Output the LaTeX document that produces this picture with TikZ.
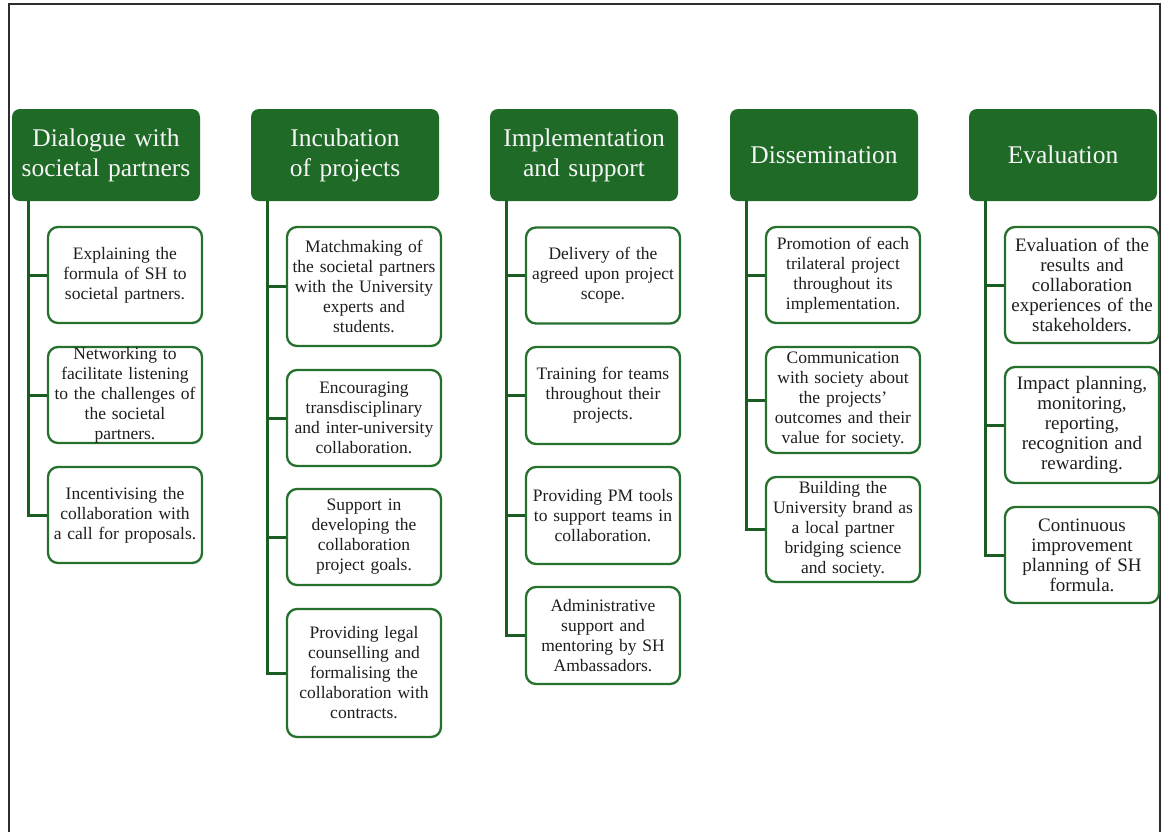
\documentclass[tikz,border=0pt]{standalone}
\usepackage{fontspec}
\setmainfont{Liberation Serif}
\definecolor{hdrgreen}{RGB}{30,106,38}
\definecolor{boxgreen}{RGB}{38,112,46}
\definecolor{linegreen}{RGB}{27,92,34}
\definecolor{txtgray}{RGB}{30,30,30}
\definecolor{hdrtext}{RGB}{245,245,245}
\definecolor{framegray}{RGB}{45,45,45}
\tikzset{
  hdr/.style={fill=hdrgreen, rounded corners=8pt, minimum width=188pt, minimum height=92pt,
    text width=180pt, inner xsep=4pt, inner ysep=0pt, align=center, text=hdrtext,
    font=\fontsize{25.5}{30}\selectfont},
  child/.style={draw=boxgreen, line width=2.3pt, fill=white, rounded corners=10pt,
    minimum width=154pt, text width=146pt, inner xsep=4pt, inner ysep=0pt, align=center,
    text=txtgray, font=\fontsize{17.5}{20}\selectfont},
  childL/.style={child, font=\fontsize{19}{20}\selectfont},
  conn/.style={draw=linegreen, line width=3pt},
  frame/.style={draw=framegray, line width=1.8pt}
}
\begin{document}
\begin{tikzpicture}[x=1pt, y=-1pt]
\useasboundingbox (0,0) rectangle (1163,831);
\draw[frame] (9,840) -- (9,4) -- (1160,4) -- (1160,840);

% headers
\node[hdr] (h1) at (106,155) {Dialogue with\\societal partners};
\node[hdr] (h2) at (345,155) {Incubation\\of projects};
\node[hdr] (h3) at (584,155) {Implementation\\and support};
\node[hdr] (h4) at (824,155) {Dissemination};
\node[hdr] (h5) at (1063,155) {Evaluation};

% column 1
\node[child, minimum height=96pt] (c11) at (125,275) {Explaining the\\formula of SH to\\societal partners.};
\node[child, minimum height=96pt] (c12) at (125,395) {Networking to\\facilitate listening\\to the challenges of\\the societal\\partners.};
\node[child, minimum height=96pt] (c13) at (125,515) {Incentivising the\\collaboration with\\a call for proposals.};

% column 2
\node[child, minimum height=119pt] (c21) at (364,286.5) {Matchmaking of\\the societal partners\\with the University\\experts and\\students.};
\node[child, minimum height=96pt] (c22) at (364,418) {Encouraging\\transdisciplinary\\and inter-university\\collaboration.};
\node[child, minimum height=96pt] (c23) at (364,537) {Support in\\developing the\\collaboration\\project goals.};
\node[child, minimum height=128pt] (c24) at (364,673) {Providing legal\\counselling and\\formalising the\\collaboration with\\contracts.};

% column 3
\node[child, minimum height=96pt] (c31) at (603,275.5) {Delivery of the\\agreed upon project\\scope.};
\node[child, minimum height=97pt] (c32) at (603,395.5) {Training for teams\\throughout their\\projects.};
\node[child, minimum height=97pt] (c33) at (603,515.5) {Providing PM tools\\to support teams in\\collaboration.};
\node[child, minimum height=97pt] (c34) at (603,635.5) {Administrative\\support and\\mentoring by SH\\Ambassadors.};

% column 4
\node[child, minimum height=96pt] (c41) at (843,275) {Promotion of each\\trilateral project\\throughout its\\implementation.};
\node[child, minimum height=106pt] (c42) at (843,400) {Communication\\with society about\\the projects’\\outcomes and their\\value for society.};
\node[child, minimum height=105pt] (c43) at (843,529.5) {Building the\\University brand as\\a local partner\\bridging science\\and society.};

% column 5
\node[childL, minimum height=116pt] (c51) at (1082,285) {Evaluation of the\\results and\\collaboration\\experiences of the\\stakeholders.};
\node[childL, minimum height=116pt] (c52) at (1082,425) {Impact planning,\\monitoring,\\reporting,\\recognition and\\rewarding.};
\node[childL, minimum height=96pt] (c53) at (1082,555) {Continuous\\improvement\\planning of SH\\formula.};

% connectors
\foreach \h/\c in {h1/c11,h1/c12,h1/c13,h2/c21,h2/c22,h2/c23,h2/c24,h3/c31,h3/c32,h3/c33,h3/c34,h4/c41,h4/c42,h4/c43,h5/c51,h5/c52,h5/c53}
  \draw[conn] ([xshift=17pt]\h.south west) |- (\c.west);
\end{tikzpicture}
\end{document}
